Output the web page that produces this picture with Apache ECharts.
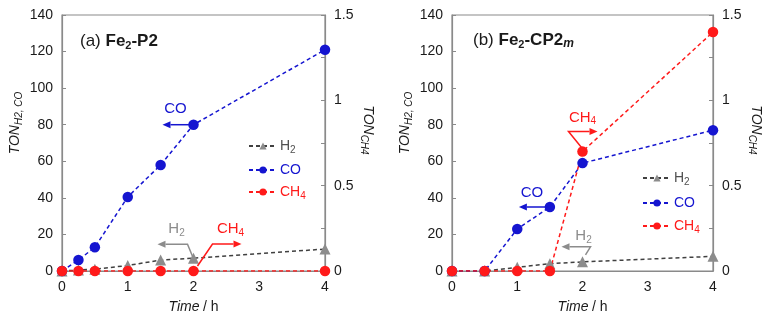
<!DOCTYPE html>
<html>
<head>
<meta charset="utf-8">
<script src="https://cdn.jsdelivr.net/npm/echarts@6/dist/echarts.min.js"></script>
<style>
  html, body { margin: 0; padding: 0; background: #fff; }
  #chart { width: 775px; height: 319px; }
</style>
</head>
<body>
<div id="chart"></div>
<script>
// (a) Fe2-P2
const timeA = [0, 0.25, 0.5, 1, 1.5, 2, 4]
const h2A = [0, 0.5, 1, 3, 6, 7, 12]
const coA = [0, 6, 13, 40.5, 58, 80, 121]
const ch4A = [0, 0, 0, 0, 0, 0, 0]
// (b) Fe2-CP2m
const timeB = [0, 0.5, 1, 1.5, 2, 4]
const h2B = [0, 0, 2, 4, 5, 8]
const coB = [0, 0, 23, 35, 59, 77]
const ch4B = [0, 0, 0, 0, 0.70, 1.40]
// ticks
const xTicks = [0, 1, 2, 3, 4]
const leftTicks = [0, 20, 40, 60, 80, 100, 120, 140]
const rightTicks = [0, 0.5, 1, 1.5]

const FONT = 'Liberation Sans'
const TXT = '#1a1a1a'
const AXIS = '#8a8a8a'
const BLUE = '#1515d0'
const RED = '#ff1a1a'
const GRAY = '#8c8c8c'
const DARK = '#404040'

const chart = echarts.init(document.getElementById('chart'))

const pair = (xs, ys) => xs.map((x, i) => [x, ys[i]])

const subRich = {
  n: { fontFamily: FONT, fontSize: 14, lineHeight: 18 },
  i: { fontFamily: FONT, fontSize: 14, lineHeight: 18, fontStyle: 'italic' },
  s: { fontFamily: FONT, fontSize: 10, lineHeight: 12, verticalAlign: 'bottom' },
  si: { fontFamily: FONT, fontSize: 10, lineHeight: 12, verticalAlign: 'bottom', fontStyle: 'italic' }
}

function xAxisOf(grid) {
  return {
    type: 'value', gridIndex: grid, min: 0, max: 4, interval: 1,
    axisLine: { lineStyle: { color: AXIS, width: 1.2 } },
    axisTick: { show: false },
    splitLine: { show: false },
    axisLabel: { color: TXT, fontFamily: FONT, fontSize: 14, margin: 9 },
    name: '{i|Time} {n|/ h}',
    nameLocation: 'middle',
    nameGap: 27,
    nameTextStyle: { color: TXT, rich: subRich }
  }
}

function leftAxisOf(grid) {
  return {
    type: 'value', gridIndex: grid, position: 'left', min: 0, max: 140, interval: 20,
    axisLine: { show: true, lineStyle: { color: AXIS, width: 1.2 } },
    axisTick: { show: true, inside: true, length: 4, lineStyle: { color: AXIS } },
    splitLine: { show: false },
    axisLabel: { color: TXT, fontFamily: FONT, fontSize: 14, margin: 9 },
    name: '{i|TON}{si|H2, CO}',
    nameLocation: 'middle',
    nameRotate: 90,
    nameGap: 38,
    nameTextStyle: { color: TXT, rich: subRich, padding: [0, 0, 0, 40] }
  }
}

function rightAxisOf(grid) {
  return {
    type: 'value', gridIndex: grid, position: 'right', min: 0, max: 1.5, interval: 0.25,
    axisLine: { show: true, lineStyle: { color: AXIS, width: 1.2 } },
    axisTick: { show: true, inside: true, length: 4, lineStyle: { color: AXIS } },
    splitLine: { show: false },
    axisLabel: {
      color: TXT, fontFamily: FONT, fontSize: 14, margin: 9,
      formatter: v => (rightTicks.indexOf(v) >= 0 ? String(v) : '')
    },
    name: '{i|TON}{si|CH4}',
    nameLocation: 'middle',
    nameRotate: -90,
    nameGap: 34,
    nameTextStyle: { color: TXT, rich: subRich, padding: [0, 26, 0, 0] }
  }
}

function seriesOf(xi, yl, yr, time, h2, co, ch4) {
  return [
    {
      name: 'H2', type: 'line', xAxisIndex: xi, yAxisIndex: yl,
      data: pair(time, h2), symbol: 'triangle', symbolSize: 11,
      lineStyle: { color: DARK, type: [4, 3], width: 1.5 },
      itemStyle: { color: GRAY }
    },
    {
      name: 'CO', type: 'line', xAxisIndex: xi, yAxisIndex: yl,
      data: pair(time, co), symbol: 'circle', symbolSize: 10.5,
      lineStyle: { color: BLUE, type: [4, 3], width: 1.5 },
      itemStyle: { color: BLUE }
    },
    {
      name: 'CH4', type: 'line', xAxisIndex: xi, yAxisIndex: yr,
      data: pair(time, ch4), symbol: 'circle', symbolSize: 10.5,
      lineStyle: { color: RED, type: [4, 3], width: 1.5 },
      itemStyle: { color: RED }
    }
  ]
}

function legendOf(left, top, gap) {
  return {
    orient: 'vertical', left: left, top: top,
    itemWidth: 28, itemHeight: 9, itemGap: gap,
    selectedMode: false,
    data: [
      { name: 'H2', textStyle: { color: '#505050' } },
      { name: 'CO', textStyle: { color: BLUE } },
      { name: 'CH4', textStyle: { color: RED } }
    ],
    formatter: name => name === 'CO' ? '{n|CO}' : '{n|' + name.slice(0, -1) + '}{s|' + name.slice(-1) + '}',
    textStyle: { rich: subRich, padding: [0, 0, 0, -2] }
  }
}

const titleRich = {
  n: { fontFamily: FONT, fontSize: 17, fontWeight: 'normal', color: TXT, lineHeight: 20 },
  b: { fontFamily: FONT, fontSize: 17, fontWeight: 'bold', color: TXT, lineHeight: 20 },
  bs: { fontFamily: FONT, fontSize: 11, fontWeight: 'bold', color: TXT, lineHeight: 13, verticalAlign: 'bottom' },
  bi: { fontFamily: FONT, fontSize: 12, fontWeight: 'bold', fontStyle: 'italic', color: TXT, lineHeight: 13, verticalAlign: 'bottom' }
}

chart.setOption({
  animation: false,
  backgroundColor: '#fff',
  grid: [
    { left: 62, top: 15, width: 263, height: 257, show: true, borderColor: AXIS, borderWidth: 1.2 },
    { left: 452, top: 15, width: 261, height: 256, show: true, borderColor: AXIS, borderWidth: 1.2 }
  ],
  title: [
    { text: '{n|(a) }{b|Fe}{bs|2}{b|-P2}', left: 80, top: 31, padding: 0, textStyle: { fontWeight: 'normal', rich: titleRich } },
    { text: '{n|(b) }{b|Fe}{bs|2}{b|-CP2}{bi|m}', left: 473, top: 30, padding: 0, textStyle: { fontWeight: 'normal', rich: titleRich } }
  ],
  legend: [legendOf(243, 134, 8), legendOf(637, 166, 9)],
  xAxis: [xAxisOf(0), xAxisOf(1)],
  yAxis: [leftAxisOf(0), rightAxisOf(0), leftAxisOf(1), rightAxisOf(1)],
  series: [
    ...seriesOf(0, 0, 1, timeA, h2A, coA, ch4A),
    ...seriesOf(1, 2, 3, timeB, h2B, coB, ch4B)
  ]
})

// 注释箭头，锚定在数据点上
function arrow(pts, color) {
  const a = pts[pts.length - 2]
  const b = pts[pts.length - 1]
  const ang = Math.atan2(b[1] - a[1], b[0] - a[0])
  const len = 8
  const hw = 3.5
  const base = [b[0] - len * Math.cos(ang), b[1] - len * Math.sin(ang)]
  const nx = -Math.sin(ang)
  const ny = Math.cos(ang)
  const line = pts.slice(0, -1).concat([base])
  return [
    { type: 'polyline', shape: { points: line }, style: { stroke: color, lineWidth: 1.5, fill: null }, z: 10 },
    {
      type: 'polygon',
      shape: { points: [b, [base[0] + nx * hw, base[1] + ny * hw], [base[0] - nx * hw, base[1] - ny * hw]] },
      style: { fill: color }, z: 10
    }
  ]
}

function label(text, p, color) {
  return {
    type: 'text', x: p[0], y: p[1], z: 10,
    style: {
      text: text, fill: color, align: 'center', verticalAlign: 'middle',
      rich: {
        n: { fontFamily: FONT, fontSize: 15, lineHeight: 18, fill: color },
        s: { fontFamily: FONT, fontSize: 10, lineHeight: 12, verticalAlign: 'bottom', fill: color }
      }
    }
  }
}

function px(xi, yi, v) {
  return chart.convertToPixel({ xAxisIndex: xi, yAxisIndex: yi }, v)
}

const off = (p, dx, dy) => [p[0] + dx, p[1] + dy]

const aCO = px(0, 0, [2, 80])
const aH2 = px(0, 0, [2, 7])
const aCH4 = px(0, 1, [2, 0])
const bCO = px(1, 2, [1.5, 35])
const bH2 = px(1, 2, [2, 5])
const bCH4 = px(1, 3, [2, 0.70])

chart.setOption({
  graphic: [
    ...arrow([off(aCO, -2, 0), off(aCO, -31, 0)], BLUE),
    label('{n|CO}', off(aCO, -18, -16), BLUE),
    ...arrow([off(aH2, -1, -2), off(aH2, -6, -14), off(aH2, -36, -14)], GRAY),
    label('{n|H}{s|2}', off(aH2, -17, -29), GRAY),
    ...arrow([off(aCH4, 4, -5), off(aCH4, 19, -27), off(aCH4, 48, -27)], RED),
    label('{n|CH}{s|4}', off(aCH4, 37, -42), RED),
    ...arrow([off(bCO, -1, 0), off(bCO, -31, 0)], BLUE),
    label('{n|CO}', off(bCO, -18, -14), BLUE),
    ...arrow([off(bH2, 3, -7), off(bH2, 8, -15), off(bH2, -21, -15)], GRAY),
    label('{n|H}{s|2}', off(bH2, 1, -26), GRAY),
    ...arrow([off(bCH4, -1, -4), off(bCH4, -14, -20), off(bCH4, 15, -20)], RED),
    label('{n|CH}{s|4}', off(bCH4, 0, -34), RED)
  ]
})
</script>
</body>
</html>
